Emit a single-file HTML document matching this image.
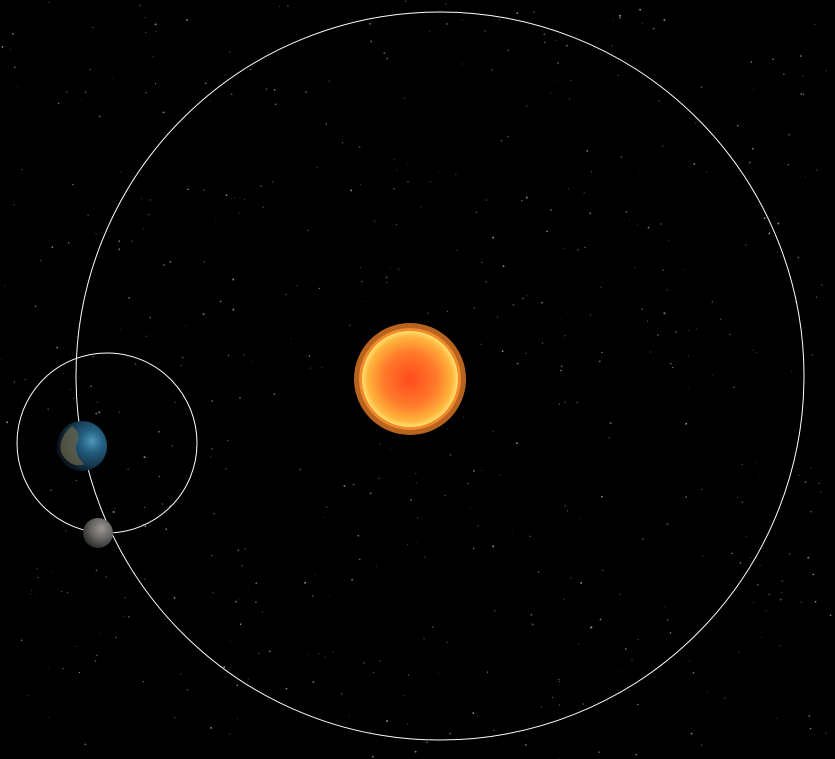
<!DOCTYPE html>
<html><head><meta charset="utf-8">
<style>
html,body{margin:0;padding:0;background:#000;width:835px;height:759px;overflow:hidden}
svg{display:block}
</style></head>
<body>
<svg id="scene" width="835" height="759" viewBox="0 0 835 759" xmlns="http://www.w3.org/2000/svg">
<defs>
<radialGradient id="sunCore" cx="50%" cy="50%" r="50%">
<stop offset="0%" stop-color="#ff4a1e"/>
<stop offset="55%" stop-color="#ff7a2a"/>
<stop offset="88%" stop-color="#ffb43c"/>
<stop offset="100%" stop-color="#ffe070"/>
</radialGradient>
<radialGradient id="earthG" cx="70%" cy="40%" r="65%">
<stop offset="0%" stop-color="#4f95b8"/>
<stop offset="35%" stop-color="#245f80"/>
<stop offset="80%" stop-color="#123247"/>
<stop offset="100%" stop-color="#0a1620"/>
</radialGradient>
<radialGradient id="moonG" cx="62%" cy="35%" r="70%">
<stop offset="0%" stop-color="#9a9894"/>
<stop offset="50%" stop-color="#686664"/>
<stop offset="100%" stop-color="#2a2928"/>
</radialGradient>
</defs>
<g id="stars"></g>
<circle cx="440" cy="376" r="364" fill="none" stroke="#fff" stroke-width="1"/>
<circle cx="107" cy="443" r="90" fill="none" stroke="#fff" stroke-width="1"/>
<g>
<circle cx="410" cy="379" r="56" fill="#b8641e"/>
<circle cx="410" cy="379" r="51" fill="#f08a2a"/>
<circle cx="410" cy="379" r="48" fill="url(#sunCore)"/>
</g>
<g>
<circle cx="82" cy="446" r="25" fill="url(#earthG)"/>
<path d="M72 426 C78 430 80 436 77 442 C74 450 78 458 84 464 C76 468 66 462 62 454 C58 446 62 434 72 426Z" fill="#6e6446" opacity="0.7"/>
</g>
<circle cx="98" cy="533" r="15" fill="url(#moonG)"/>
</svg>
<script>
var g=document.getElementById('stars');
var s=12345;function rnd(){s=(s*1103515245+12345)%2147483648;return s/2147483648;}
for(var i=0;i<550;i++){
var c=document.createElementNS('http://www.w3.org/2000/svg','circle');
c.setAttribute('cx',(rnd()*835).toFixed(1));
c.setAttribute('cy',(rnd()*759).toFixed(1));
c.setAttribute('r',(0.4+rnd()*0.6).toFixed(2));
c.setAttribute('fill','#fff');
c.setAttribute('opacity',(0.15+rnd()*0.45).toFixed(2));


g.appendChild(c);
}
</script>
</body></html>
